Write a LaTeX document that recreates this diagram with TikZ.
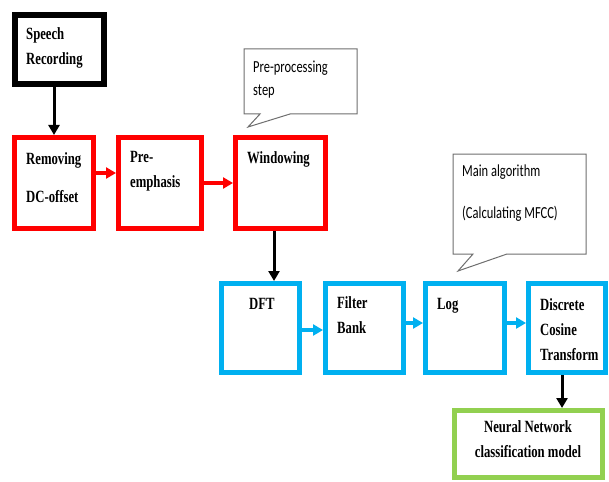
\documentclass[tikz,border=0pt]{standalone}
\usepackage{graphicx}
\usepackage{fontspec}
\setmainfont{Liberation Serif}
\newfontfamily\notefont{Carlito}
\usetikzlibrary{arrows.meta}

\definecolor{stepred}{RGB}{255,0,0}
\definecolor{stepblue}{RGB}{0,176,240}
\definecolor{stepgreen}{RGB}{146,208,80}
\definecolor{notegray}{RGB}{110,110,110}

% the printed letters are drawn taller than wide
\newcommand{\tallline}[1]{\scalebox{1}[1.35]{#1}}

\tikzset{
  blockbox/.style={draw, rectangle, line width=5pt, fill=white, inner sep=0pt},
  blackbox/.style={blockbox, line width=6pt, draw=black},
  redbox/.style={blockbox, draw=stepred},
  bluebox/.style={blockbox, draw=stepblue},
  greenbox/.style={blockbox, draw=stepgreen},
  boxtext/.style={font=\fontsize{12.7}{25}\selectfont\bfseries, inner sep=0pt, anchor=base west, align=left},
  notetext/.style={font=\notefont\fontsize{12.5}{24}\selectfont, inner sep=0pt, anchor=base west, align=left},
  notebubble/.style={draw=notegray, line width=1pt, fill=white, line join=miter},
  blackarrow/.style={->, line width=3pt, draw=black},
  redarrow/.style={->, line width=3.5pt, draw=stepred},
  bluearrow/.style={->, line width=3.5pt, draw=stepblue}
}

\begin{document}
\begin{tikzpicture}[x=1pt, y=-1pt, >={Triangle[length=10pt, width=11pt]}]
\useasboundingbox (0,0) rectangle (609,481);

% pre-processing blocks
\node[blackbox, minimum width=89pt, minimum height=69pt] (speech) at (59.5,49.5) {};
\node[redbox, minimum width=79pt, minimum height=91pt] (removing) at (54,183) {};
\node[redbox, minimum width=83pt, minimum height=91pt] (preemph) at (160,183) {};
\node[redbox, minimum width=90pt, minimum height=91pt] (windowing) at (280.5,183) {};

% MFCC blocks
\node[bluebox, minimum width=78pt, minimum height=89pt] (dft) at (260.5,328) {};
\node[bluebox, minimum width=78pt, minimum height=89pt] (filter) at (364.5,328) {};
\node[bluebox, minimum width=79pt, minimum height=89pt] (logbox) at (465,328) {};
\node[bluebox, minimum width=77pt, minimum height=89pt] (dct) at (567,328) {};
\node[greenbox, minimum width=148pt, minimum height=67pt] (network) at (528.5,444) {};

% texts (base anchor sits on the last line)
\node[boxtext] (speechtxt) at (26,65) {\tallline{Speech}\\\tallline{Recording}};
\node[boxtext] (removingtxt) at (26,202) {\tallline{Removing}\\[13pt]\tallline{DC-offset}};
\node[boxtext] (preemphtxt) at (130,187) {\tallline{Pre-}\\\tallline{emphasis}};
\node[boxtext] (windowingtxt) at (247,164) {\tallline{Windowing}};
\node[boxtext] (dfttxt) at (249,309) {\tallline{DFT}};
\node[boxtext] (filtertxt) at (337,333) {\tallline{Filter}\\\tallline{Bank}};
\node[boxtext] (logtxt) at (437,309) {\tallline{Log}};
\node[boxtext] (dcttxt) at (540,360) {\tallline{Discrete}\\\tallline{Cosine}\\\tallline{Transform}};
\node[boxtext, anchor=base, align=center] (networktxt) at (528,457) {\tallline{Neural Network}\\\tallline{classification model}};

% callouts
\draw[notebubble] (244,49) -- (357,49) -- (357,114) -- (290,114) -- (248,127) -- (260,114) -- (244,114) -- cycle;
\node[notetext] (prenote) at (253,96) {\tallline{Pre-processing}\\\tallline{step}};
\draw[notebubble] (453,154) -- (586,154) -- (586,254) -- (507,254) -- (458,271) -- (473,254) -- (453,254) -- cycle;
\node[notetext] (mainnote) at (462,218) {\tallline{Main algorithm}\\[18pt]\tallline{(Calculating MFCC)}};

% connectors
\draw[blackarrow] (removing.north |- speech.south) -- (removing.north);
\draw[redarrow] ([yshift=10pt]removing.east) -- ([yshift=10pt]removing.east -| preemph.west);
\draw[redarrow] (preemph.east) -- (windowing.west);
\draw[blackarrow] ([xshift=-6.5pt]windowing.south) -- ([xshift=-6.5pt]windowing.south |- dft.north);
\draw[bluearrow] ([yshift=-2pt]dft.east) -- ([yshift=-2pt]dft.east -| filter.west);
\draw[bluearrow] ([yshift=5pt]filter.east) -- ([yshift=5pt]filter.east -| logbox.west);
\draw[bluearrow] ([yshift=5pt]logbox.east) -- ([yshift=5pt]logbox.east -| dct.west);
\draw[blackarrow] ([xshift=-5pt]dct.south) -- ([xshift=-5pt]dct.south |- network.north);
\end{tikzpicture}
\end{document}
